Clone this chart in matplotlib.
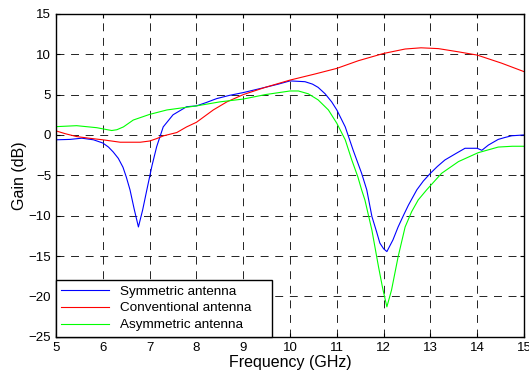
import matplotlib
matplotlib.use("Agg")
import matplotlib.pyplot as plt

plt.rcParams["font.family"] = ["Liberation Sans", "DejaVu Sans"]

# Symmetric antenna (blue)
f_sym = [5.0, 5.3, 5.55, 5.8, 6.0, 6.12, 6.22, 6.33, 6.43, 6.5, 6.58, 6.67, 6.76,
         6.85, 6.94, 7.05, 7.15, 7.29, 7.5, 7.79, 8.0, 8.2, 8.43, 8.7, 9.0, 9.47,
         9.75, 10.0, 10.32, 10.48, 10.6, 10.75, 10.89, 11.0, 11.18, 11.35, 11.53,
         11.64, 11.75, 11.85, 11.92, 12.0, 12.07, 12.2, 12.31, 12.43, 12.53, 12.71,
         12.85, 13.0, 13.15, 13.31, 13.53, 13.74, 14.0, 14.1, 14.24, 14.45, 14.6,
         14.74, 15.0]
g_sym = [-0.6, -0.55, -0.4, -0.6, -1.0, -1.5, -2.1, -2.9, -4.0, -5.2, -6.8, -9.2,
         -11.4, -9.3, -6.8, -3.8, -1.45, 1.0, 2.5, 3.5, 3.6, 4.0, 4.5, 4.9, 5.25,
         5.9, 6.3, 6.7, 6.6, 6.3, 5.9, 5.1, 4.1, 3.1, 1.0, -1.9, -4.75, -6.8,
         -10.1, -12.0, -13.4, -14.1, -14.45, -13.0, -11.4, -9.9, -8.7, -6.8,
         -5.7, -4.75, -3.9, -3.1, -2.35, -1.65, -1.65, -1.9, -1.25, -0.55, -0.3,
         -0.1, 0.0]

# Conventional antenna (red)
f_conv = [5.0, 5.2, 5.44, 5.7, 6.0, 6.37, 6.8, 7.0, 7.15, 7.3, 7.58, 7.79, 8.0,
          8.36, 8.65, 9.0, 9.47, 10.0, 10.53, 11.0, 11.46, 12.0, 12.46, 12.8,
          13.17, 13.6, 14.0, 14.52, 15.0]
g_conv = [0.5, 0.15, -0.2, -0.4, -0.6, -0.9, -0.9, -0.75, -0.45, -0.1, 0.3, 1.0,
          1.57, 3.1, 4.1, 5.0, 5.9, 6.8, 7.55, 8.25, 9.2, 10.1, 10.65, 10.8,
          10.7, 10.3, 9.9, 8.9, 7.85]

# Asymmetric antenna (green)
f_asym = [5.0, 5.44, 5.87, 6.05, 6.19, 6.3, 6.44, 6.65, 7.0, 7.37, 8.0, 8.5, 9.0,
          9.47, 10.0, 10.18, 10.39, 10.6, 10.82, 11.0, 11.18, 11.32, 11.45, 11.53,
          11.6, 11.75, 11.89, 11.98, 12.07, 12.17, 12.31, 12.46, 12.6, 12.74,
          12.92, 13.24, 13.6, 14.02, 14.45, 14.75, 15.0]
g_asym = [1.03, 1.15, 0.9, 0.7, 0.55, 0.65, 1.0, 1.85, 2.55, 3.1, 3.6, 4.1, 4.45,
          5.0, 5.45, 5.45, 5.1, 4.35, 3.1, 1.45, -0.6, -3.1, -5.2, -6.8,
          -8.05, -11.8, -16.3, -19.0, -21.3, -19.2, -15.1, -11.4, -9.5, -8.05,
          -6.8, -4.75, -3.3, -2.2, -1.5, -1.4, -1.4]

fig = plt.figure(figsize=(5.29, 3.76), dpi=100)
ax = fig.add_axes([0.106, 0.1045, 0.8845, 0.8585])

ax.plot(f_sym, g_sym, color="#0000ff", lw=0.8, label="Symmetric antenna")
ax.plot(f_conv, g_conv, color="#ff0000", lw=0.8, label="Conventional antenna")
ax.plot(f_asym, g_asym, color="#00ff00", lw=0.8, label="Asymmetric antenna")

ax.set_xlim(5, 15)
ax.set_ylim(-25, 15)
ax.set_xticks(range(5, 16))
ax.set_yticks(range(-25, 16, 5))

ax.grid(True, color="black", linestyle=(0, (9.5, 8)), linewidth=0.6)
ax.tick_params(direction="in", top=True, right=True, labelsize=9.5, length=3)
for s in ax.spines.values():
    s.set_linewidth(1.0)

ax.set_xlabel("Frequency (GHz)", fontsize=11.5, labelpad=1)
ax.set_ylabel("Gain (dB)", fontsize=11.5, labelpad=1)

leg = ax.legend(loc="lower left", bbox_to_anchor=(0, 0, 0.4615, 0.4), mode="expand",
                borderaxespad=0, fontsize=9.7, handlelength=3.55,
                labelspacing=0.33, fancybox=False, framealpha=1,
                edgecolor="black")
leg.get_frame().set_linewidth(1.0)

fig.savefig("out.png", dpi=100)
